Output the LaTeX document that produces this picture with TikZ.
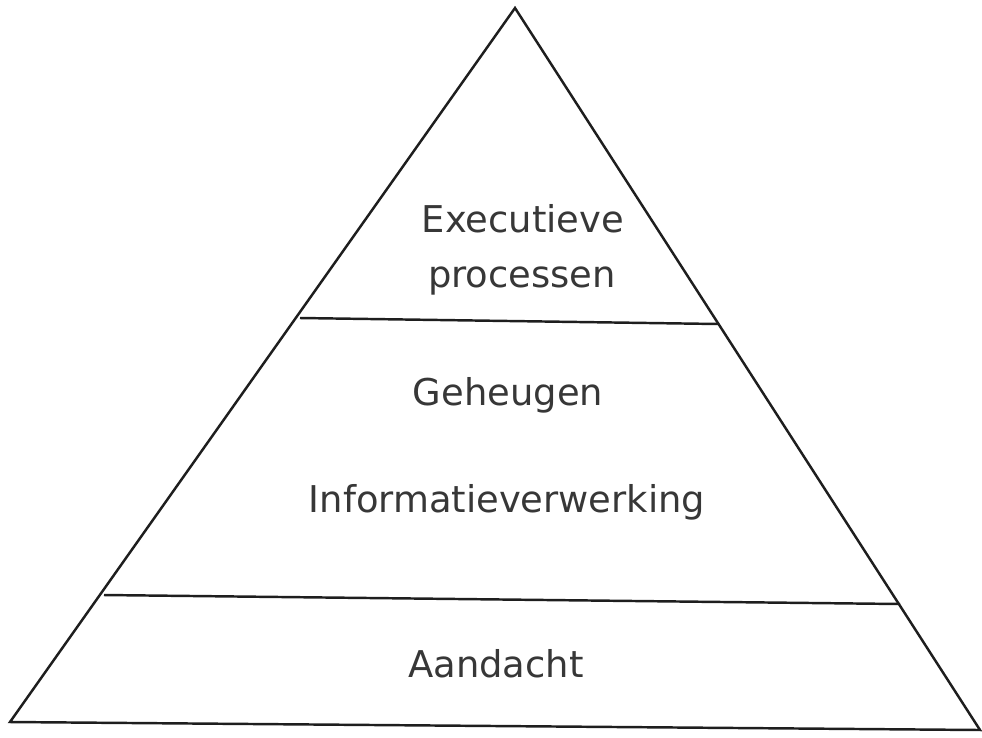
\documentclass[tikz,border=0pt]{standalone}
\usepackage{fontspec}
\setmainfont{DejaVu Sans}
\usetikzlibrary{positioning}
\definecolor{ink}{RGB}{30, 30, 30}
\definecolor{label}{RGB}{55, 55, 55}

\begin{document}
\begin{tikzpicture}[x=0.02cm, y=-0.02cm,
    edge/.style={draw=ink, line width=1.4pt, line join=miter},
    layer/.style={text=label, font=\fontsize{21}{25}\selectfont, anchor=base, inner sep=0pt}]
            % Frame
            \useasboundingbox (0,0) rectangle (982,737);

            % Corners
            \coordinate (apex) at (515,8);
            \coordinate (bl) at (10,722);
            \coordinate (br) at (980,730);
            \coordinate (tl) at (300,318);
            \coordinate (tr) at (718,324);
            \coordinate (ml) at (104,595);
            \coordinate (mr) at (900,604);

            % Outline
            \draw[edge] (apex) -- (bl) -- (br) -- cycle;
            \draw[edge] (tl) -- (tr);
            \draw[edge] (ml) -- (mr);

            % Labels
            \node[layer] (exec) at (523,232) {Executieve};
            \node[layer] (proc) at (522,287) {processen};
            \node[layer] (geheugen) at (508,405) {Geheugen};
            \node[layer] (info) at (507,512) {Informatieverwerking};
            \node[layer] (aandacht) at (496,677) {Aandacht};
        \end{tikzpicture}
\end{document}
